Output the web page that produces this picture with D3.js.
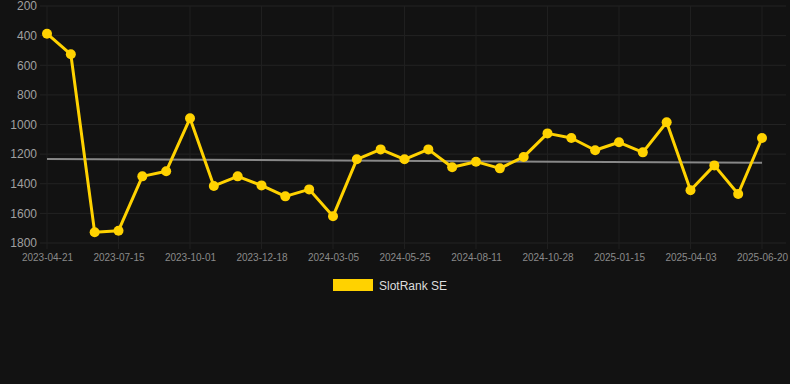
<!DOCTYPE html>
<html><head><meta charset="utf-8">
<script src="https://cdn.jsdelivr.net/npm/d3@7"></script>
<style>
html,body{margin:0;padding:0;background:#121212;}
svg{display:block;font-family:"Liberation Sans",Arial,Helvetica,sans-serif;}
</style></head>
<body>
<svg id="c" width="790" height="384"></svg>
<script>
const dates = ["2023-04-21","2023-05-19","2023-06-16","2023-07-15","2023-08-11","2023-09-05","2023-10-01","2023-10-27","2023-11-22","2023-12-18","2024-01-13","2024-02-08","2024-03-05","2024-03-31","2024-04-28","2024-05-25","2024-06-20","2024-07-16","2024-08-11","2024-09-06","2024-10-02","2024-10-28","2024-11-23","2024-12-20","2025-01-15","2025-02-09","2025-03-09","2025-04-03","2025-04-29","2025-05-25","2025-06-20"];
const ranks = [387,526,1728,1717,1350,1316,958,1415,1350,1411,1485,1438,1620,1235,1168,1235,1168,1289,1251,1296,1219,1060,1091,1174,1120,1188,985,1444,1276,1469,1091];
const trend = [1233,1258];
const yTicks = [200,400,600,800,1000,1200,1400,1600,1800];
const seriesName = "SlotRank SE";

const svg = d3.select("#c");
const x = d3.scalePoint().domain(dates).range([47,762]);
const y = d3.scaleLinear().domain([200,1800]).range([6,243]);
const shownDates = dates.filter((d,i)=>i%3===0);

// grid
const g = svg.append("g");
g.selectAll("line.h").data(yTicks).join("line")
  .attr("x1",40).attr("x2",786).attr("y1",d=>y(d)).attr("y2",d=>y(d))
  .attr("stroke","#232323").attr("stroke-width",1);
g.selectAll("line.v").data(shownDates).join("line")
  .attr("x1",d=>x(d)).attr("x2",d=>x(d)).attr("y1",6).attr("y2",249)
  .attr("stroke","#1f1f1f").attr("stroke-width",1);

// y axis labels
const yAxis = svg.append("g").attr("transform","translate(37,0)")
  .call(d3.axisLeft(y).tickValues(yTicks).tickFormat(d3.format("d")).tickSize(0).tickPadding(0));
yAxis.select(".domain").remove();
yAxis.selectAll("text").attr("fill","#a0a0a0").attr("font-size","12px").attr("font-family","Liberation Sans, Arial, sans-serif");

// x axis labels
const xAxis = svg.append("g").attr("transform","translate(0,254)")
  .call(d3.axisBottom(x).tickValues(shownDates).tickSize(0).tickPadding(0));
xAxis.select(".domain").remove();
xAxis.selectAll("text").attr("fill","#8a8a8a").attr("font-size","10px").attr("font-family","Liberation Sans, Arial, sans-serif");

// trend line
svg.append("line")
  .attr("x1",x(dates[0])).attr("x2",x(dates[dates.length-1]))
  .attr("y1",y(trend[0])).attr("y2",y(trend[1]))
  .attr("stroke","#888").attr("stroke-width",2);

// series
const col = "#ffd200";
svg.append("path").datum(ranks)
  .attr("d",d3.line().x((d,i)=>x(dates[i])).y(d=>y(d)))
  .attr("fill","none").attr("stroke",col).attr("stroke-width",3).attr("stroke-linejoin","round");
svg.selectAll("circle.p").data(ranks).join("circle")
  .attr("cx",(d,i)=>x(dates[i])).attr("cy",d=>y(d)).attr("r",5).attr("fill",col);

// legend
svg.append("rect").attr("x",333).attr("y",279).attr("width",40).attr("height",12).attr("fill",col);
svg.append("text").attr("x",379).attr("y",289.5).text(seriesName)
  .attr("fill","#dddddd").attr("font-size","12px");
</script>
</body></html>
